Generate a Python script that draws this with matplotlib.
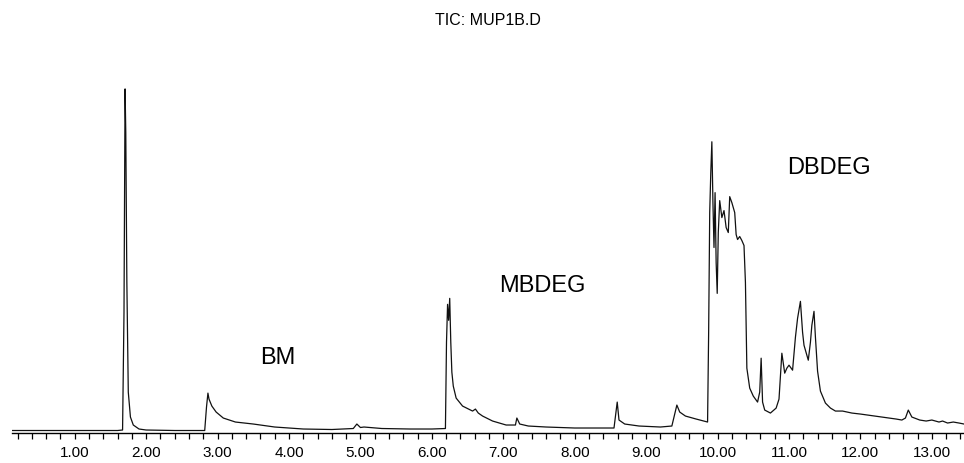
import numpy as np
import matplotlib
matplotlib.use("Agg")
import matplotlib.pyplot as plt
from matplotlib.ticker import MultipleLocator, FormatStrFormatter

plt.rcParams['font.family'] = ['Liberation Sans', 'DejaVu Sans']

# retention time (min) and abundance (arbitrary units)
rt = [0.12, 1.00, 1.60, 1.67, 1.69, 1.705, 1.715, 1.73, 1.75, 1.78, 1.82, 1.90, 2.00, 2.40,
      2.82, 2.845, 2.865, 2.88, 2.92, 2.98, 3.08, 3.25, 3.50, 3.80, 4.20, 4.60, 4.90, 4.95,
      5.00, 5.05, 5.30, 5.70, 6.00, 6.19, 6.205, 6.22, 6.235, 6.25, 6.265, 6.28, 6.30, 6.34,
      6.43, 6.57, 6.61, 6.65, 6.71, 6.85, 7.04, 7.17, 7.19, 7.23, 7.35, 7.60, 8.00, 8.30,
      8.55, 8.575, 8.595, 8.62, 8.70, 8.90, 9.20, 9.36, 9.40, 9.43, 9.47, 9.55, 9.70, 9.86,
      9.875, 9.89, 9.905, 9.92, 9.935, 9.95, 9.965, 9.98, 9.995, 10.01, 10.03, 10.06, 10.09,
      10.12, 10.15, 10.17, 10.20, 10.24, 10.26, 10.28, 10.31, 10.34, 10.37, 10.39, 10.41,
      10.45, 10.50, 10.56, 10.59, 10.61, 10.63, 10.66, 10.74, 10.82, 10.86, 10.90, 10.94,
      10.97, 11.00, 11.05, 11.09, 11.12, 11.16, 11.19, 11.21, 11.27, 11.30, 11.32, 11.35,
      11.37, 11.40, 11.44, 11.51, 11.58, 11.65, 11.75, 11.88, 12.00, 12.10, 12.21, 12.30,
      12.40, 12.50, 12.58, 12.63, 12.67, 12.72, 12.83, 12.92, 13.00, 13.10, 13.15, 13.22,
      13.30, 13.38, 13.45]
abundance = [1.5, 1.5, 1.5, 2, 120, 344, 300, 150, 40, 15, 7, 3, 2, 1.5,
             1.5, 25, 39, 33, 26, 20, 14, 10, 8, 5, 3, 2.5, 3.5, 8,
             4.5, 5, 3.5, 3, 3, 3.5, 90, 128, 112, 134, 90, 60, 46, 34,
             26, 21, 23, 19, 16, 11, 7, 7, 14, 8, 6, 5, 4, 4,
             4, 18, 30, 12, 8, 6, 5, 6, 18, 27, 20, 16, 13, 10,
             100, 220, 260, 291, 230, 185, 240, 170, 139, 200, 232, 215, 222,
             205, 200, 236, 230, 220, 198, 193, 196, 192, 187, 150, 64,
             44, 36, 30, 40, 74, 30, 22, 19, 24, 33, 79, 59,
             64, 67, 62, 95, 114, 131, 100, 87, 72, 90, 107, 121,
             95, 61, 41, 29, 24, 21, 21, 19, 18, 17, 16, 15,
             14, 13, 12, 14, 22, 15, 12, 11, 12, 10, 11, 9,
             10, 9, 8]

title = "TIC: MUP1B.D"
labels = ["BM", "MBDEG", "DBDEG"]
label_rt = [3.85, 7.54, 11.56]
label_ab = [75, 147, 266]

fig = plt.figure(figsize=(9.64, 4.64), dpi=100)
ax = fig.add_axes([12 / 964, 30 / 464, 952 / 964, 374 / 464])

ax.plot(rt, abundance, color="#111111", lw=0.9)

for txt, x, y in zip(labels, label_rt, label_ab):
    ax.text(x, y, txt, fontsize=17, ha="center", va="center")

fig.text(488 / 964, 1 - 20.5 / 464, title, fontsize=11.5, ha="center", va="center")

ax.set_xlim(0.122, 13.45)
ax.set_ylim(-1, 374)
for s in ["left", "right", "top"]:
    ax.spines[s].set_visible(False)
ax.spines["bottom"].set_linewidth(1.0)
ax.set_yticks([])
ax.xaxis.set_major_locator(MultipleLocator(1))
ax.xaxis.set_minor_locator(MultipleLocator(0.2))
ax.xaxis.set_major_formatter(FormatStrFormatter("%.2f"))
ax.tick_params(axis="x", which="both", direction="out", length=4, width=0.9)
ax.tick_params(axis="x", which="major", labelsize=11, pad=5)

fig.savefig("out.png", dpi=100)
